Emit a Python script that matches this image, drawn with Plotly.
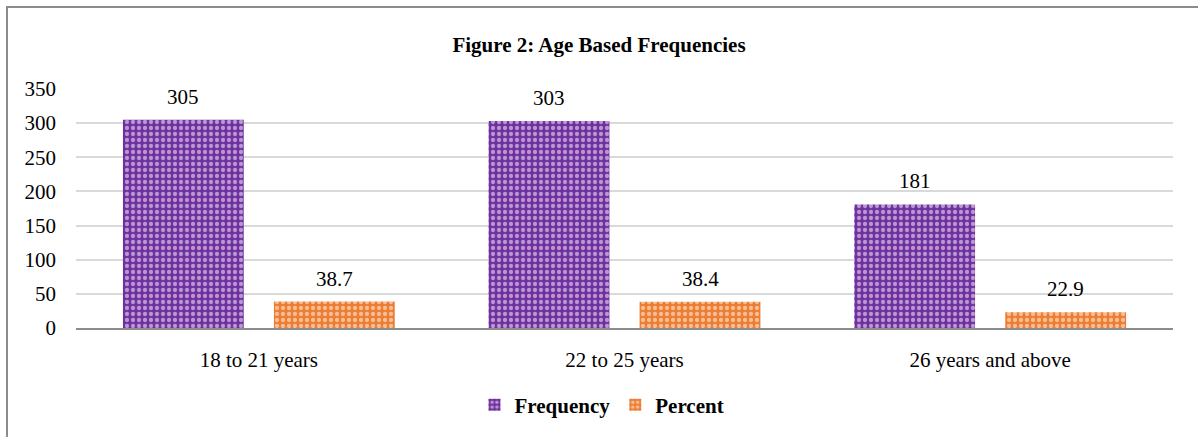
import plotly.graph_objects as go

categories = ["18 to 21 years", "22 to 25 years", "26 years and above"]
frequency = [305, 303, 181]
percent = [38.7, 38.4, 22.9]
y_ticks = [0, 50, 100, 150, 200, 250, 300, 350]

FONT = "Liberation Serif"
PURPLE = "#7030A0"
ORANGE = "#ED7D31"

fig = go.Figure()
fig.add_trace(go.Bar(
    x=categories, y=frequency, name="<b>Frequency</b>",
    marker=dict(color=PURPLE, line=dict(width=0),
                pattern=dict(shape=".", bgcolor=PURPLE, fgcolor="white",
                             size=6, solidity=0.4)),
))
fig.add_trace(go.Bar(
    x=categories, y=percent, name="<b>Percent</b>",
    marker=dict(color=ORANGE, line=dict(width=0),
                pattern=dict(shape=".", bgcolor=ORANGE, fgcolor="white",
                             size=6, solidity=0.4)),
))

# value labels above each bar
annotations = []
for vals, shift in ((frequency, -75.5), (percent, 75.5)):
    for cat, v in zip(categories, vals):
        annotations.append(dict(
            x=cat, y=v, xref="x", yref="y", text=f"{v:g}",
            showarrow=False, xshift=shift, yshift=9, yanchor="bottom",
            font=dict(family=FONT, size=21, color="#000"),
        ))

plot_l, plot_r, plot_t, plot_b = 76, 1173, 89, 331
W, H = 1198, 437
pw, ph = plot_r - plot_l, plot_b - plot_t

def px(x):
    return (x - plot_l) / pw

def py(y):
    return (plot_b - y) / ph

fig.update_layout(
    width=W, height=H,
    margin=dict(l=plot_l, r=W - plot_r, t=plot_t, b=H - plot_b),
    paper_bgcolor="white", plot_bgcolor="white",
    barmode="group", bargap=0.174, bargroupgap=0.2,
    title=dict(text="<b>Figure 2: Age Based Frequencies</b>",
               x=0.5, xanchor="center", y=1 - 45 / H, yanchor="middle",
               yref="container",
               font=dict(family=FONT, size=21, color="#000")),
    font=dict(family=FONT, size=21, color="#000"),
    xaxis=dict(showgrid=False, showline=True, linecolor="#8c8c8c", linewidth=2,
               ticks="", ticklabelstandoff=12,
               tickfont=dict(family=FONT, size=21, color="#000")),
    yaxis=dict(range=[0, 350], tickvals=y_ticks, showgrid=True,
               gridcolor="#d9d9d9", gridwidth=1.5, zeroline=False,
               showline=False, ticks="", ticklabelstandoff=19,
               tickfont=dict(family=FONT, size=21, color="#000")),
    legend=dict(orientation="h", x=px(602), xanchor="center",
                y=py(409), yanchor="middle",
                font=dict(family=FONT, size=21, color="#000"),
                itemwidth=30, traceorder="normal"),
    annotations=annotations,
    shapes=[dict(type="rect", xref="paper", yref="paper",
                 x0=px(7), x1=px(1210), y0=py(450), y1=py(6),
                 line=dict(color="#8c8c8c", width=2), layer="below")],
)

fig.write_html("out.html")
